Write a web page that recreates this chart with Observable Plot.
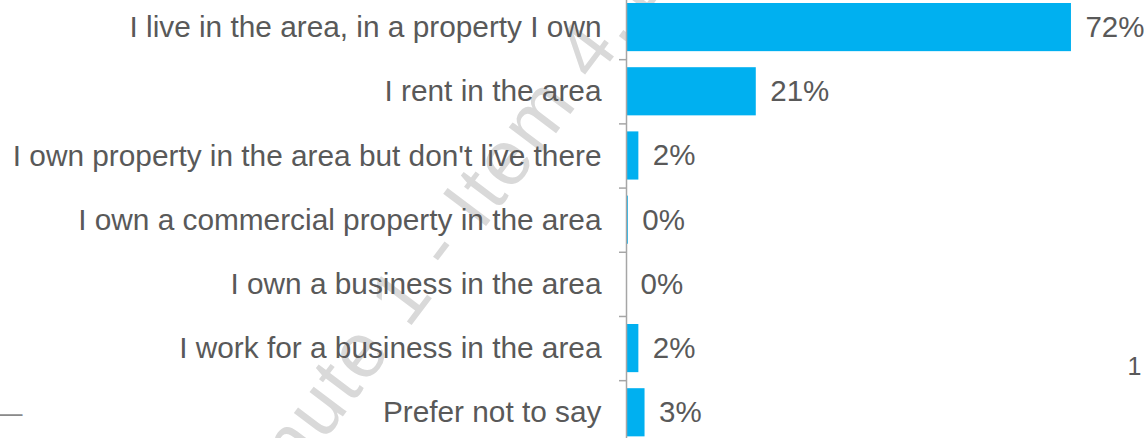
<!DOCTYPE html>
<html>
<head>
<meta charset="utf-8">
<script src="https://cdn.jsdelivr.net/npm/d3@7"></script>
<script src="https://cdn.jsdelivr.net/npm/@observablehq/plot@0.6"></script>
<style>
  html, body { margin: 0; padding: 0; background: #fff; }
  #chart { width: 1144px; height: 438px; overflow: hidden; }
</style>
</head>
<body>
<div id="chart"></div>
<script>
const categories = [
  "I live in the area, in a property I own",
  "I rent in the area",
  "I own property in the area but don't live there",
  "I own a commercial property in the area",
  "I own a business in the area",
  "I work for a business in the area",
  "Prefer not to say"
];
const values = [72, 21, 2, 0.3, 0, 2, 3];
const valueLabels = ["72%", "21%", "2%", "0%", "0%", "2%", "3%"];
const watermark = "Minute 1 - Item 4.1";
const strayRight = "1";
const strayLeft = "—";

const data = categories.map((c, i) => ({category: c, value: values[i], label: valueLabels[i]}));

const font = "Liberation Sans, Arial, sans-serif";
const textColor = "#595959";

const plot = Plot.plot({
  width: 1144,
  height: 438,
  marginTop: 0,
  marginBottom: 0,
  marginLeft: 0,
  marginRight: 0,
  style: {fontFamily: font, background: "#fff", overflow: "hidden"},
  x: {domain: [0, 80], range: [626, 1120.4], axis: null},
  y: {domain: categories, range: [-13.05, 452.4], padding: 0.25, round: false, axis: null},
  marks: [
    Plot.text([watermark], {
      frameAnchor: "top-left", dx: 243, dy: 547.5, rotate: -53,
      textAnchor: "start", lineAnchor: "bottom", fontSize: 78, fill: "#d9d9d9", fontFamily: font
    }),
    Plot.barX(data, {x: "value", y: "category", fill: "#00B0F0"}),
    Plot.ruleX([0], {stroke: "#A6A6A6", strokeWidth: 1.5}),
    Plot.axisY({anchor: "left", label: null, tickSize: 7, text: null, dy: -32.1, dx: 626, stroke: "#A6A6A6", strokeWidth: 1.5}),
    Plot.axisY({anchor: "left", label: null, tickSize: 0, tickPadding: 0, dx: 601, fontSize: 29.8, fill: textColor, fontFamily: font}),
    Plot.text(data, {x: "value", y: "category", text: "label", textAnchor: "start", dx: 14, fontSize: 29.5, fill: textColor, fontFamily: font}),
    Plot.text([strayRight], {frameAnchor: "top-right", dx: -3, dy: 357, textAnchor: "end", fontSize: 25, fill: textColor, fontFamily: font}),
    Plot.text([strayLeft], {frameAnchor: "top-left", dx: -6, dy: 402, textAnchor: "start", fontSize: 28, fill: "#8a8a8a", fontFamily: font})
  ]
});
d3.select(plot).selectAll("text")
  .filter(function() { return this.textContent === watermark; })
  .attr("letter-spacing", "2.5px");
document.getElementById("chart").appendChild(plot);
</script>
</body>
</html>
